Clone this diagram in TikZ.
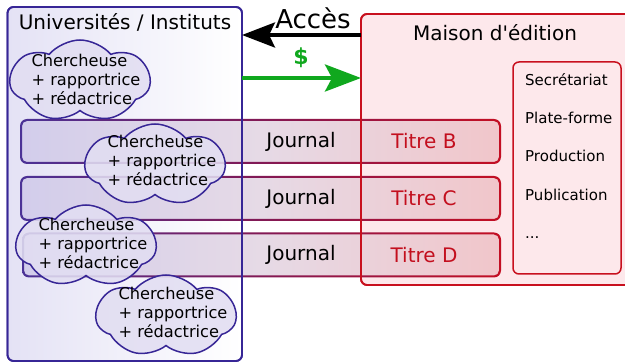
\documentclass[tikz,border=0pt]{standalone}
\usepackage{fontspec}
\setmainfont{DejaVu Sans}
\usetikzlibrary{shapes.symbols,arrows.meta}
\definecolor{ublue}{RGB}{55,38,150}
\definecolor{ufillL}{RGB}{228,226,245}
\definecolor{mred}{RGB}{200,16,30}
\definecolor{mfill}{RGB}{253,232,235}
\definecolor{barL}{RGB}{210,205,235}
\definecolor{barM}{RGB}{230,218,230}
\definecolor{barR}{RGB}{241,198,202}
\definecolor{strokeL}{RGB}{75,50,150}
\definecolor{strokeM}{RGB}{130,25,85}
\definecolor{strokeR}{RGB}{195,15,35}
\definecolor{cfill}{RGB}{226,222,242}
\definecolor{tred}{RGB}{195,15,30}
\definecolor{dgreen}{RGB}{16,168,30}
\newcommand\barstroke[1]{%
  \shade[even odd rule, left color=strokeL, right color=strokeR, middle color=strokeM, rounded corners=7pt]
    ([xshift=-1pt,yshift=1pt]#1.north west) rectangle ([xshift=1pt,yshift=-1pt]#1.south east)
    [rounded corners=5pt]
    ([xshift=1pt,yshift=-1pt]#1.north west) rectangle ([xshift=-1pt,yshift=1pt]#1.south east);}
\newcommand\sq{\XeTeXglyph\XeTeXcharglyph"0027\relax}
\begin{document}
\begin{tikzpicture}[x=1pt,y=-1pt,
  box/.style={rectangle, inner sep=0pt, outer sep=0pt, rounded corners=6pt, line width=1.8pt},
  barbox/.style={rectangle, inner sep=0pt, outer sep=0pt, rounded corners=6pt,
     minimum width=479pt, minimum height=43pt, left color=barL, right color=barR, middle color=barM},
  bigtxt/.style={font=\fontsize{20}{24}\selectfont, inner sep=0pt},
  listtxt/.style={font=\fontsize{15}{18}\selectfont, inner sep=0pt, anchor=west, text height=11pt, text depth=3.2pt},
  cloudbox/.style={cloud, cloud puffs=7, cloud puff arc=100, cloud ignores aspect, draw=ublue,
     line width=1.5pt, fill=cfill, fill opacity=0.88, minimum width=140pt, minimum height=82pt, inner sep=0pt},
  cloudtxt/.style={font=\fontsize{16.2}{19}\selectfont, align=left, inner sep=0pt},
  accarrow/.style={line width=4pt, -{Stealth[length=33pt,width=25pt,inset=6pt]}},
  payarrow/.style={line width=4pt, dgreen, -{Stealth[length=36pt,width=27pt,inset=7pt]}}]
\path[use as bounding box, clip] (0,0) rectangle (625,363);

% boxes (fills)
\node[box, draw=ublue, left color=ufillL, right color=white, minimum width=234.5pt, minimum height=354pt] (univ) at (124.75,184) {};
\node[box, draw=mred, fill=mfill, minimum width=284pt, minimum height=271pt] (maison) at (503,149.5) {};
\node[box, draw=mred, minimum width=108pt, minimum height=212pt, line width=1.5pt] (inner) at (567,168) {};

% journal bars
\node[barbox] (barB) at (260.5,141.5) {};
\node[barbox] (barC) at (260.5,198.5) {};
\node[barbox, minimum width=477pt] (barD) at (261.5,255) {};
\barstroke{barB}
\barstroke{barC}
\barstroke{barD}

% box outlines over the bars
\draw[ublue, line width=1.8pt, rounded corners=6pt] (univ.south west) rectangle (univ.north east);
\draw[mred, line width=1.8pt, rounded corners=6pt] (maison.south west) rectangle (maison.north east);

% titles
\node[bigtxt] (univtitle) at (125,22) {Universités / Instituts};
\node[bigtxt] (maisontitle) at (495,33) {Maison d\sq édition};

% bar texts
\node[bigtxt] (jB) at (301,141.5) {Journal};
\node[bigtxt, text=tred] (tB) at (424,141.5) {Titre B};
\node[bigtxt] (jC) at (301,198.5) {Journal};
\node[bigtxt, text=tred] (tC) at (424,198.5) {Titre C};
\node[bigtxt] (jD) at (301,255) {Journal};
\node[bigtxt, text=tred] (tD) at (424,255) {Titre D};

% list
\node[listtxt] (l1) at (525,82) {Secrétariat};
\node[listtxt] (l2) at (525,120) {Plate-forme};
\node[listtxt] (l3) at (525,158) {Production};
\node[listtxt] (l4) at (525,196.5) {Publication};
\node[listtxt] (l5) at (525,235) {...};

% arrows
\coordinate (ya) at (0,35);
\coordinate (yb) at (0,78);
\draw[accarrow] (maison.west |- ya) -- (univ.east |- ya);
\draw[payarrow] (univ.east |- yb) -- (maison.west |- yb);
\node[font=\fontsize{26}{30}\selectfont, inner sep=0pt] (acces) at (313,18) {Accès};
\node[font=\bfseries\fontsize{22}{26}\selectfont, text=dgreen, inner sep=0pt] (dollar) at (301,58) {\$};

% clouds
\node[cloudbox] (c1) at (80,81) {};
\node[cloudtxt] (c1t) at (86,79) {Chercheuse\\+ rapportrice\\+ rédactrice};
\node[cloudbox] (c2) at (155,165) {};
\node[cloudtxt] (c2t) at (162,160) {Chercheuse\\+ rapportrice\\+ rédactrice};
\node[cloudbox] (c3) at (86,246) {};
\node[cloudtxt] (c3t) at (93,243) {Chercheuse\\+ rapportrice\\+ rédactrice};
\node[cloudbox] (c4) at (166,316) {};
\node[cloudtxt] (c4t) at (173,312) {Chercheuse\\+ rapportrice\\+ rédactrice};
\end{tikzpicture}
\end{document}
